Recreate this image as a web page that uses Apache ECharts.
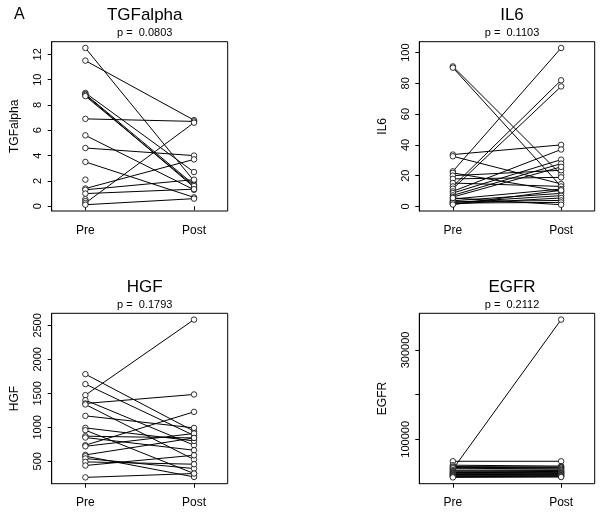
<!DOCTYPE html>
<html>
<head>
<meta charset="utf-8">
<script src="https://cdn.jsdelivr.net/npm/echarts@6/dist/echarts.min.js"></script>
<style>
html,body{margin:0;padding:0;background:#fff;}
#chart{width:600px;height:513px;}
</style>
</head>
<body>
<div id="chart"></div>
<script>
// ---- data ----
const xLabels = ['Pre', 'Post'];

const tgfTitle = 'TGFalpha';
const tgfP = 'p =  0.0803';
const tgfPre  = [12.5, 11.5, 8.95, 8.85, 8.8, 8.7, 6.9, 5.6, 4.6, 3.5, 2.1, 1.4, 1.3, 1.0, 0.55, 0.4, 0.25, 0.12];
const tgfPost = [2.0, 6.8, 2.7, 1.7, 1.5, 1.6, 6.7, 1.3, 4.0, 0.7, null, 3.7, 2.1, 1.35, null, null, 6.6, 0.6];
const tgfTicks = [0, 2, 4, 6, 8, 10, 12];

const il6Title = 'IL6';
const il6P = 'p =  0.1103';
const il6Pre  = [91.0, 90.2, 33.7, 32.6, 22.8, 21.8, 20.0, 17.9, 15.2, 13.0, 11.5, 9.8, 8.7, 7.2, 6.1, 4.8, 3.7, 2.6, 1.6, 3.0, 2.2, 5.5, 1.2];
const il6Post = [20.7, 13.0, 40.0, 14.6, 103.0, 9.8, 23.5, 18.9, 13.0, 82.0, 78.0, 37.0, 30.4, 27.8, 25.7, 11.3, 8.5, 7.0, 5.5, 3.9, 2.6, 1.1, 10.5];
const il6Ticks = [0, 20, 40, 60, 80, 100];

const hgfTitle = 'HGF';
const hgfP = 'p =  0.1793';
const hgfPre  = [1782, 1635, 1473, 1399, 1350, 1336, 1168, 991, 957, 869, 849, 736, 720, 593, 574, 540, 490, 437, 262];
const hgfPost = [942, 879, 2585, 736, 1483, 525, 991, 799, 319, 843, 662, 1227, 908, 843, 269, 392, 456, 588, 319];
const hgfTicks = [500, 1000, 1500, 2000, 2500];

const egfrTitle = 'EGFR';
const egfrP = 'p =  0.2112';
const egfrPre  = [50800, 33000, 42000, 39000, 37000, 35000, 31000, 29000, 27000, 25500, 24000, 22500, 21000, 19500, 18000, 16500, 14700];
const egfrPost = [50800, 368000, 40000, 38000, 36500, 34000, 31500, 30000, 28000, 26000, 24500, 23000, 21500, 20000, 18500, 17000, 15500];
const egfrTicks = [100000, 200000, 300000];
const egfrTickLabels = [100000, 300000];

// ---- layout ----
const FONT = 'Liberation Sans';
const panels = [
  {title: tgfTitle, p: tgfP, pre: tgfPre, post: tgfPost, ticks: tgfTicks, tickLabels: tgfTicks,
   grid: {left: 51.7, top: 41.7, width: 176, height: 169.3}, titleTop: 2, subTop: 22, lblMargin: 14},
  {title: il6Title, p: il6P, pre: il6Pre, post: il6Post, ticks: il6Ticks, tickLabels: il6Ticks,
   grid: {left: 419.3, top: 41.7, width: 175.4, height: 169.3}, titleTop: 2, subTop: 22, lblMargin: 14},
  {title: hgfTitle, p: hgfP, pre: hgfPre, post: hgfPost, ticks: hgfTicks, tickLabels: hgfTicks,
   grid: {left: 51.7, top: 313.3, width: 176, height: 170.4}, titleTop: 274, subTop: 294, lblMargin: 13},
  {title: egfrTitle, p: egfrP, pre: egfrPre, post: egfrPost, ticks: egfrTicks, tickLabels: egfrTickLabels,
   grid: {left: 419.3, top: 313.3, width: 175.4, height: 170.4}, titleTop: 274, subTop: 294, lblMargin: 13}
];

const grids = [], xAxes = [], yAxes = [], series = [], titles = [];
titles.push({text: 'A', left: 9, top: 2, textStyle: {fontFamily: FONT, fontSize: 16, fontWeight: 'normal', color: '#000'}});

panels.forEach((pn, gi) => {
  grids.push(Object.assign({show: true, borderColor: '#000', borderWidth: 1, backgroundColor: 'transparent', containLabel: false}, pn.grid));
  const cx = pn.grid.left + pn.grid.width / 2;
  titles.push({text: pn.title, left: cx, top: pn.titleTop, textAlign: 'center',
    textStyle: {fontFamily: FONT, fontSize: 17, fontWeight: 'normal', color: '#000'}});
  titles.push({text: pn.p, left: cx, top: pn.subTop, textAlign: 'center',
    textStyle: {fontFamily: FONT, fontSize: 11, fontWeight: 'normal', color: '#000'}});
  xAxes.push({
    gridIndex: gi, type: 'value', min: 0.69, max: 2.31,
    axisLine: {show: false},
    splitLine: {show: false},
    axisTick: {show: true, customValues: [1, 2], length: 4, lineStyle: {color: '#000'}},
    axisLabel: {customValues: [1, 2], margin: pn.lblMargin, fontFamily: FONT, fontSize: 12, color: '#000',
      formatter: v => xLabels[Math.round(v) - 1]}
  });
  yAxes.push({
    gridIndex: gi, type: 'value',
    min: e => e.min - 0.04 * (e.max - e.min),
    max: e => e.max + 0.04 * (e.max - e.min),
    name: pn.title, nameLocation: 'middle', nameGap: 31, nameRotate: 90,
    nameTextStyle: {fontFamily: FONT, fontSize: 12, color: '#000'},
    axisLine: {show: true, lineStyle: {color: '#000'}},
    splitLine: {show: false},
    axisTick: {show: true, customValues: pn.ticks, length: 4, lineStyle: {color: '#000'}},
    axisLabel: {customValues: pn.tickLabels, rotate: 90, margin: 8, fontFamily: FONT, fontSize: 11, color: '#000',
      formatter: v => String(v)}
  });
  pn.pre.forEach((v, i) => {
    const d = [[1, v]];
    if (pn.post[i] !== null && pn.post[i] !== undefined) d.push([2, pn.post[i]]);
    series.push({
      type: 'line', xAxisIndex: gi, yAxisIndex: gi, data: d,
      symbol: 'circle', symbolSize: 5.5, showAllSymbol: true,
      lineStyle: {color: '#000', width: 1},
      itemStyle: {color: '#fff', borderWidth: 0.8, borderColor: '#000'},
      emphasis: {disabled: true},
      animation: false, silent: true
    });
  });
});

const chart = echarts.init(document.getElementById('chart'), null, {renderer: 'canvas'});
chart.setOption({
  backgroundColor: '#fff',
  animation: false,
  title: titles,
  grid: grids,
  xAxis: xAxes,
  yAxis: yAxes,
  series: series
});
</script>
</body>
</html>
